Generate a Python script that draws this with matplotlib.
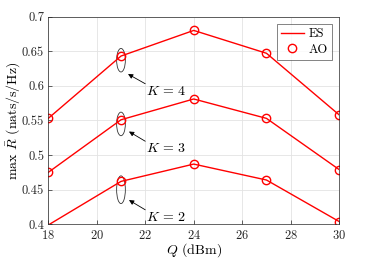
import numpy as np
import matplotlib
matplotlib.use('Agg')
import matplotlib.pyplot as plt
from matplotlib.patches import Ellipse

plt.rcParams['font.family'] = 'serif'
plt.rcParams['font.serif'] = ['cmr10']
plt.rcParams['mathtext.fontset'] = 'cm'
plt.rcParams['axes.formatter.use_mathtext'] = True

Q = [18, 21, 24, 27, 30]
rate_k4 = [0.553, 0.643, 0.680, 0.647, 0.558]
rate_k3 = [0.475, 0.551, 0.581, 0.553, 0.479]
rate_k2 = [0.399, 0.462, 0.487, 0.464, 0.404]

# annotation: (label, ellipse centre y, ellipse height, arrow head, arrow tail, text y)
notes = [
    (r'$K\,=\,4$', 0.637, 0.034, (21.29, 0.617), (22.0, 0.603), 0.592),
    (r'$K\,=\,3$', 0.545, 0.034, (21.33, 0.534), (22.0, 0.520), 0.510),
    (r'$K\,=\,2$', 0.450, 0.040, (21.33, 0.435), (22.0, 0.421), 0.410),
]

fig = plt.figure(figsize=(3.74, 2.63), dpi=100)
ax = fig.add_axes([0.129, 0.147, 0.778, 0.79])

ylim = (0.4, 0.7)
for i, r in enumerate([rate_k4, rate_k3, rate_k2]):
    r = np.array(r)
    keep = [j for j in range(len(r)) if ylim[0] <= r[j] <= ylim[1]]
    ax.plot(Q, r, color='red', linewidth=1.0, label='ES' if i == 0 else None)
    ax.plot(np.array(Q)[keep], r[keep], linestyle='none', marker='o', markersize=6,
            markerfacecolor='none', markeredgecolor='red', markeredgewidth=1.0,
            label='AO' if i == 0 else None)

for label, cy, h, head, tail, ty in notes:
    ax.add_patch(Ellipse((21.0, cy), 0.36, h, fill=False, edgecolor='#333333', linewidth=0.6))
    ax.annotate('', xy=head, xytext=tail,
                arrowprops=dict(arrowstyle='-|>', color='black', lw=0.6,
                                mutation_scale=7, shrinkA=0, shrinkB=0))
    ax.text(22.85, ty, label, fontsize=10, ha='center', va='center')

ax.set_xlim(18, 30)
ax.set_ylim(*ylim)
ax.set_xticks(np.arange(18, 31, 2))
ax.set_yticks(np.arange(0.4, 0.701, 0.05))
ax.set_yticklabels(['0.4', '0.45', '0.5', '0.55', '0.6', '0.65', '0.7'])
ax.grid(True, color='#e3e3e3', linewidth=0.6)
ax.set_axisbelow(True)
ax.tick_params(direction='in', labelsize=9, colors='#262626', length=3, width=0.5, pad=3)
for s in ax.spines.values():
    s.set_color('#262626')
    s.set_linewidth(0.5)

ax.set_xlabel('$Q$ (dBm)', fontsize=10, labelpad=0)
ax.set_ylabel(r'max $\bar{R}$ (nats/s/Hz)', fontsize=10, labelpad=0)

leg = ax.legend(loc='upper right', fontsize=9, frameon=True, fancybox=False,
                edgecolor='#262626', handlelength=1.8, borderpad=0.3,
                labelspacing=0.3, handletextpad=0.4, borderaxespad=0.6)
leg.get_frame().set_linewidth(0.5)

fig.savefig('out.png', dpi=100)
